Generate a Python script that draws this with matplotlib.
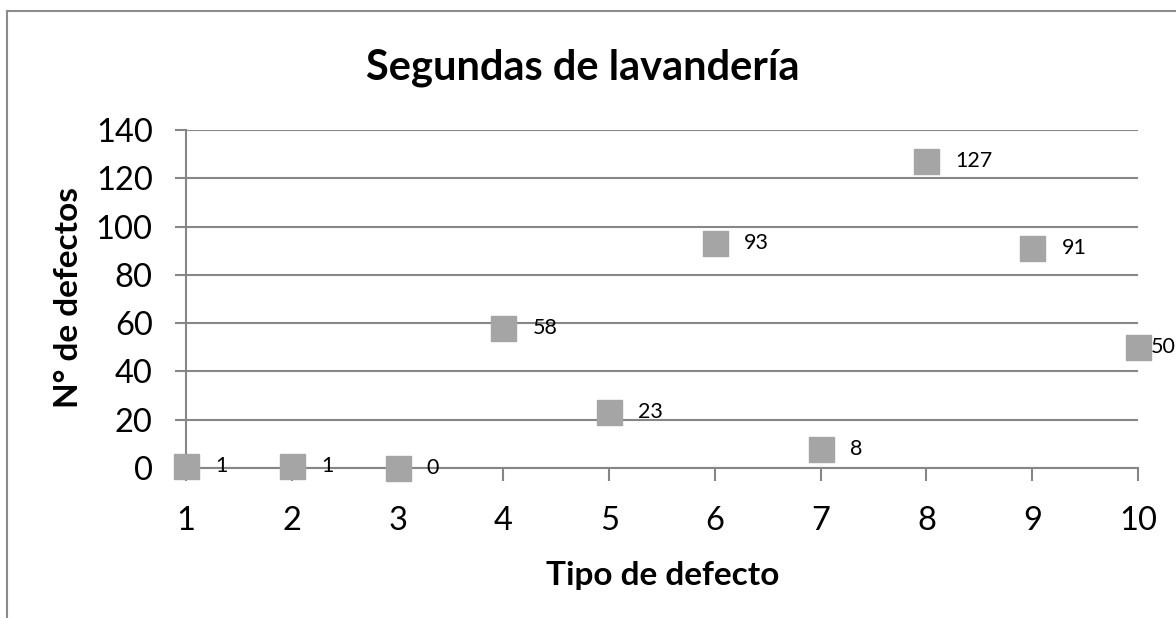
import matplotlib
matplotlib.use("Agg")
import matplotlib.pyplot as plt
from matplotlib.lines import Line2D

plt.rcParams['font.family'] = ['Lato', 'DejaVu Sans']

tipos = [1, 2, 3, 4, 5, 6, 7, 8, 9, 10]
defectos = [1, 1, 0, 58, 23, 93, 8, 127, 91, 50]
y_ticks = [0, 20, 40, 60, 80, 100, 120, 140]
title = "Segundas de lavandería"
xlabel = "Tipo de defecto"
ylabel = "N° de defectos"

fig = plt.figure(figsize=(11.76, 6.18), dpi=100)
ax = fig.add_axes([186/1176, 1-468/618, (1138-186)/1176, (468-130)/618])

grid_c = '#868686'
ax.set_xlim(1, 10)
ax.set_ylim(0, 140)
ax.set_yticks(y_ticks)
ax.set_xticks(tipos)
ax.grid(axis='y', color=grid_c, lw=1.5)
ax.set_axisbelow(True)
for s in ['top', 'right']:
    ax.spines[s].set_visible(False)
ax.spines['left'].set_color(grid_c)
ax.spines['left'].set_linewidth(1.5)
ax.spines['bottom'].set_color(grid_c)
ax.spines['bottom'].set_linewidth(1.5)
ax.tick_params(axis='y', length=8, width=1.5, color=grid_c, labelsize=23.5, pad=16)
ax.tick_params(axis='x', length=9, width=1.5, color=grid_c, labelsize=23.5, pad=18)

ax.plot(tipos, defectos, ls='none', marker='s', markersize=18,
        color='#A5A5A5', markeredgecolor='#A5A5A5', clip_on=False, zorder=3)

for i, (x, y) in enumerate(zip(tipos, defectos)):
    off = 9 if i == len(tipos) - 1 else 21
    ax.annotate(str(y), (x, y), xytext=(off, 0), textcoords='offset points',
                ha='left', va='center', fontsize=15.5, color='black',
                annotation_clip=False)

fig.text(583/1176, 1-68/618, title, ha='center', va='center',
         fontsize=30, fontweight='bold')
fig.text(663/1176, 1-576/618, xlabel, ha='center', va='center',
         fontsize=24, fontweight='bold')
fig.text(68/1176, 1-297/618, ylabel, ha='center', va='center',
         fontsize=24, fontweight='bold', rotation=90)

# outer chart border
fig.add_artist(Line2D([7/1176, 7/1176], [0, 1-11/618], color='#8c8c8c', lw=1.5,
                      transform=fig.transFigure))
fig.add_artist(Line2D([7/1176, 1], [1-11/618, 1-11/618], color='#8c8c8c', lw=1.5,
                      transform=fig.transFigure))

fig.savefig('out.png', dpi=100)
